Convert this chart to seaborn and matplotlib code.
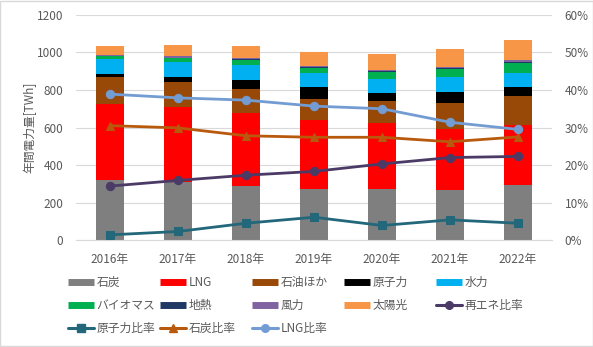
import numpy as np
import matplotlib
matplotlib.use("Agg")
import matplotlib.pyplot as plt
import seaborn as sns
from matplotlib.lines import Line2D
from matplotlib.patches import Rectangle

years = ["2016年", "2017年", "2018年", "2019年", "2020年", "2021年", "2022年"]

coal    = [318, 311, 290, 275, 270, 268, 292]
lng     = [405, 398, 387, 367, 354, 324, 321]
oil     = [144, 134, 128, 110, 117, 139, 155]
nuclear = [18, 26, 48, 64, 44, 60, 50]
hydro   = [80, 80, 80, 75, 75, 80, 75]
biomass = [14, 21, 27, 27, 37, 42, 53]
geo     = [3, 3, 3, 3, 3, 3, 3]
wind    = [7, 7, 8, 8, 9, 9, 9]
solar   = [48, 59, 64, 75, 85, 96, 107]

renew_ratio   = [14.4, 15.9, 17.3, 18.3, 20.3, 22.0, 22.3]
nuclear_ratio = [1.4, 2.3, 4.5, 6.1, 3.9, 5.4, 4.5]
coal_ratio    = [30.5, 29.9, 27.8, 27.4, 27.4, 26.2, 27.5]
lng_ratio     = [38.9, 37.9, 37.3, 35.7, 35.0, 31.4, 29.5]

bar_names  = ["石炭", "LNG", "石油ほか", "原子力", "水力", "バイオマス", "地熱", "風力", "太陽光"]
bar_values = [coal, lng, oil, nuclear, hydro, biomass, geo, wind, solar]
bar_colors = ["#7F7F7F", "#FF0000", "#984807", "#000000", "#00B0F0",
              "#00B050", "#1F3864", "#8064A2", "#F79646"]

line_names  = ["再エネ比率", "原子力比率", "石炭比率", "LNG比率"]
line_values = [renew_ratio, nuclear_ratio, coal_ratio, lng_ratio]
line_colors = ["#4B3A66", "#23677A", "#B85A0D", "#739CD2"]
line_markers = ["o", "s", "^", "o"]

sns.set_theme(style="white")
plt.rcParams['font.family'] = ['Noto Sans CJK JP', 'DejaVu Sans']
txt = "#595959"

fig = plt.figure(figsize=(5.93, 3.47), dpi=100)
fig.patch.set_facecolor("white")
ax = fig.add_axes([0.128, 0.308, 0.803, 0.649])

vals = np.array(bar_values, dtype=float)
cum = np.cumsum(vals, axis=0)
for i in range(len(bar_names) - 1, -1, -1):
    sns.barplot(x=years, y=cum[i], color=bar_colors[i], width=0.4, saturation=1,
                errorbar=None, linewidth=0, ax=ax)

ax.set_ylim(0, 1200)
ax.set_yticks(range(0, 1201, 200))
ax.set_axisbelow(True)
ax.yaxis.grid(True, color="#D9D9D9", lw=0.8)
ax.xaxis.grid(False)
for s in ["top", "right", "left"]:
    ax.spines[s].set_visible(False)
ax.spines["bottom"].set_color("#D9D9D9")
ax.spines["bottom"].set_linewidth(0.8)
ax.tick_params(axis="both", length=0, labelsize=8.5, colors=txt)
ax.tick_params(axis="x", pad=9)
ax.tick_params(axis="y", pad=9)
ax.set_xlabel("")
ax.set_ylabel("年間電力量[TWh]", fontsize=8.5, color=txt, labelpad=0)

ax2 = ax.twinx()
for name, v, c, m in zip(line_names, line_values, line_colors, line_markers):
    sns.lineplot(x=years, y=v, ax=ax2, color=c, marker=m, markersize=6 if m != "s" else 5.5,
                 markeredgecolor=c, linewidth=2.0, sort=False)
ax2.set_ylim(0, 60)
ax2.set_yticks(range(0, 61, 10))
ax2.set_yticklabels([f"{t}%" for t in range(0, 61, 10)])
for s in ax2.spines.values():
    s.set_visible(False)
ax2.tick_params(axis="y", length=0, labelsize=8.5, colors=txt, pad=9)
ax2.set_ylabel("")
ax.set_xlim(-0.5, 6.5)

def bar_handle(c):
    return Line2D([0], [0], color=c, lw=5, solid_capstyle="butt")

def line_handle(c, m):
    return Line2D([0], [0], color=c, lw=2.2, marker=m, markersize=5.5, markeredgecolor=c)

hmap = {n: bar_handle(c) for n, c in zip(bar_names, bar_colors)}
for n, c, m in zip(line_names, line_colors, line_markers):
    hmap[n] = line_handle(c, m)

columns = [["石炭", "バイオマス", "原子力比率"],
           ["LNG", "地熱", "石炭比率"],
           ["石油ほか", "風力", "LNG比率"],
           ["原子力", "太陽光"],
           ["水力", "再エネ比率"]]
col_x = [68, 160, 252, 344, 436]
for names, xp in zip(columns, col_x):
    fig.legend([hmap[n] for n in names], names, loc="upper left",
               bbox_to_anchor=(xp / 593, 1 - 276 / 347), frameon=False,
               fontsize=8.5, labelcolor=txt, handlelength=2.2, handletextpad=0.2,
               labelspacing=0.85, borderpad=0, borderaxespad=0)

fig.patches.append(Rectangle((0.0008, 0.0015), 0.9984, 0.997, transform=fig.transFigure,
                             fill=False, edgecolor="#D9D9D9", lw=1))

fig.savefig("out.png", dpi=100, facecolor="white")
